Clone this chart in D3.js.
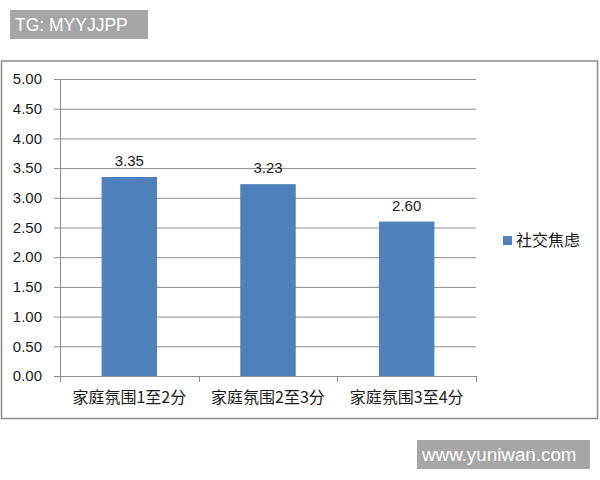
<!DOCTYPE html>
<html><head><meta charset="utf-8">
<script src="https://cdn.jsdelivr.net/npm/d3@7"></script>
<style>body{margin:0;background:#fff}svg{display:block}</style>
</head><body>
<svg id="c" width="600" height="480"></svg>
<script>
const categories = ["家庭氛围1至2分", "家庭氛围2至3分", "家庭氛围3至4分"];
const values = [3.35, 3.23, 2.60];
const seriesName = "社交焦虑";
const yTicks = [0, 0.5, 1, 1.5, 2, 2.5, 3, 3.5, 4, 4.5, 5];

const svg = d3.select("#c");
const latin = "'Liberation Sans', Arial, sans-serif";
const cjk = "'Noto Sans CJK SC', sans-serif";

// top-left tag
svg.append("rect").attr("x",10).attr("y",10).attr("width",138).attr("height",29).attr("fill","#a6a6a6");
svg.append("text").attr("x",15).attr("y",31).attr("fill","#fff").attr("font-family",latin).attr("font-size",17.5).text("TG: MYYJJPP");

// chart border
svg.append("rect").attr("x",1.5).attr("y",61).attr("width",596).attr("height",357.5)
  .attr("fill","#fff").attr("stroke","#8a8a8a").attr("stroke-width",1.5);

const x0 = 60, x1 = 476, yTop = 79, yBot = 376;
const x = d3.scaleBand().domain(categories).range([x0, x1]).paddingInner(0.6).paddingOuter(0.3);
const y = d3.scaleLinear().domain([0, 5]).range([yBot, yTop]);

// gridlines
svg.append("g").selectAll("line").data(yTicks).join("line")
  .attr("x1", x0-6).attr("x2", x1).attr("y1", d=>y(d)+0.5).attr("y2", d=>y(d)+0.5)
  .attr("stroke","#8c8c8c").attr("stroke-width",1);

// y axis line
svg.append("line").attr("x1",x0+0.5).attr("x2",x0+0.5).attr("y1",yTop).attr("y2",yBot+0.5).attr("stroke","#8c8c8c");

// y labels
svg.append("g").selectAll("text").data(yTicks).join("text")
  .attr("x", 42).attr("y", d=>y(d)).attr("dy","0.35em").attr("text-anchor","end")
  .attr("font-family",latin).attr("font-size",15).attr("fill","#1a1a1a").text(d=>d.toFixed(2));

// category ticks
const bandStep = (x1 - x0) / categories.length;
const tickXs = d3.range(categories.length + 1).map(i => x0 + i*bandStep);
svg.append("g").selectAll("line").data(tickXs).join("line")
  .attr("x1", d=>Math.round(d)+0.5).attr("x2", d=>Math.round(d)+0.5).attr("y1", yBot).attr("y2", yBot+6)
  .attr("stroke","#8c8c8c");

// bars
svg.append("g").selectAll("rect").data(values).join("rect")
  .attr("x",(d,i)=>x(categories[i])).attr("width",x.bandwidth())
  .attr("y",d=>y(d)).attr("height",d=>yBot-y(d)).attr("fill","#4f81bd");

// value labels
svg.append("g").selectAll("text").data(values).join("text")
  .attr("x",(d,i)=>x(categories[i])+x.bandwidth()/2).attr("y",d=>y(d)-16).attr("dy","0.35em")
  .attr("text-anchor","middle").attr("font-family",latin).attr("font-size",15).attr("fill","#1a1a1a")
  .text(d=>d.toFixed(2));

// x labels
svg.append("g").selectAll("text").data(categories).join("text")
  .attr("x",d=>x(d)+x.bandwidth()/2).attr("y",397).attr("dy","0.35em").attr("text-anchor","middle")
  .attr("font-family",cjk).attr("font-size",16).attr("fill","#1a1a1a").text(d=>d);

// legend
svg.append("rect").attr("x",503).attr("y",236).attr("width",9).attr("height",9).attr("fill","#4f81bd");
svg.append("text").attr("x",516).attr("y",240).attr("dy","0.35em").attr("font-family",cjk)
  .attr("font-size",16).attr("fill","#1a1a1a").text(seriesName);

// watermark
svg.append("rect").attr("x",417).attr("y",440).attr("width",173).attr("height",29).attr("fill","#a6a6a6");
svg.append("text").attr("x",422).attr("y",461).attr("fill","#fff").attr("font-family",latin).attr("font-size",18.8).text("www.yuniwan.com");
</script>
</body></html>
